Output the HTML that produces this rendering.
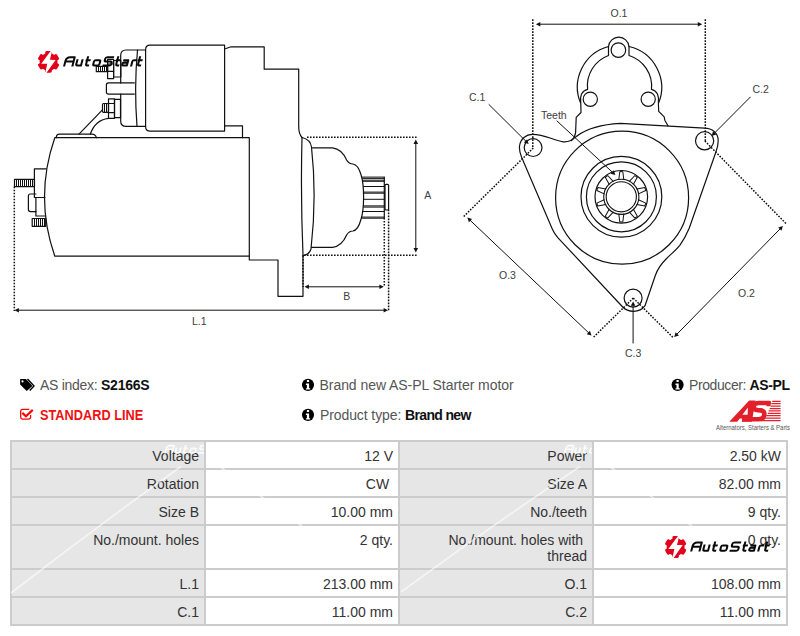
<!DOCTYPE html>
<html><head><meta charset="utf-8">
<style>
html,body{margin:0;padding:0;background:#fff;}
body{width:800px;height:636px;position:relative;overflow:hidden;font-family:"Liberation Sans",sans-serif;}
svg{position:absolute;left:0;top:0;}
.t{position:absolute;font-size:14px;line-height:16px;white-space:nowrap;color:#555;}
.b{font-weight:bold;color:#111;}
table{position:absolute;left:10px;top:440px;border-collapse:collapse;width:776px;table-layout:fixed;font-size:14px;line-height:16px;color:#333;}
td{border:2px solid #ccc;padding:6px 5px 4px 5px;text-align:right;vertical-align:top;height:16px;}
td.l{background:#e6e6e6;}
td.v{background:#fff;}
</style></head><body>
<svg width="800" height="360" viewBox="0 0 800 360" fill="none" stroke="#111" stroke-width="1.2" stroke-linejoin="round" stroke-linecap="round">
<!-- LEFT VIEW -->
<!-- motor body -->
<path d="M54.8 137.7 L249.3 137.7 L249.3 256.2 L54.8 256.2 Q34.2 197 54.8 137.7 Z"/>
<!-- end bracket -->
<path d="M46.2 168.8 L34.4 168.8 L34.4 197.5 L45 197.5"/>
<path d="M35.9 197.5 L35.9 216 L45.5 216"/>
<path d="M35.9 194 L30.5 194 Q28.4 194 28.4 196 L28.4 209.6 Q28.4 211.6 30.5 211.6 L35.9 211.6"/>
<rect x="14.5" y="179.3" width="20" height="7.4"/>
<rect x="32.2" y="218.5" width="13.5" height="7.8"/>
<path stroke-width="1" stroke-linecap="butt" d="M16.5 179.5V186.5M18.5 179.5V186.5M20.5 179.5V186.5M22.5 179.5V186.5M24.5 179.5V186.5M26.5 179.5V186.5M28.5 179.5V186.5M30.5 179.5V186.5M32.5 179.5V186.5"/>
<path stroke-width="1" stroke-linecap="butt" d="M34.5 218.5V226.3M36.5 218.5V226.3M38.5 218.5V226.3M40.5 218.5V226.3M42.5 218.5V226.3M44.5 218.5V226.3"/>
<!-- pad on top of motor -->
<path d="M56.3 137.7 Q56.3 134.2 59.5 134.2 L92 134.2 Q95.3 134.2 96.5 137.7"/>
<!-- wire & bracket -->
<line x1="79" y1="134.2" x2="102.2" y2="110.1"/>
<path d="M90.3 134.2 Q95 120 108.5 118.3"/>
<!-- lower terminal -->
<rect x="102.5" y="103.5" width="6" height="8.8" rx="1"/>
<path stroke-width="1" stroke-linecap="butt" d="M104.5 103.5V112.3M106.5 103.5V112.3"/>
<rect x="108.5" y="98.8" width="6" height="19.5"/>
<path d="M108.5 103.5h6M108.5 112.6h6"/>
<rect x="114.5" y="99.4" width="6" height="18.3"/>
<!-- top terminal -->
<rect x="96.3" y="66.4" width="11.3" height="5.3"/>
<path stroke-width="1" stroke-linecap="butt" d="M98.5 66.4V71.7M100.5 66.4V71.7M102.5 66.4V71.7M104.5 66.4V71.7M106.5 66.4V71.7"/>
<rect x="107.6" y="59.3" width="6" height="19.3"/>
<path d="M107.6 71.4h6M107.6 64h6"/>
<rect x="113.6" y="60.5" width="7.2" height="16.5"/>
<!-- middle bar -->
<path d="M134.3 82.9 L108.5 82.9 Q106.4 82.9 106.4 85 L106.4 92 Q106.4 94.1 108.5 94.1 L134.3 94.1"/>
<!-- solenoid cap -->
<path d="M145.6 50 L126 50 Q120.7 50 120.7 55.5 L120.7 82.9 M120.7 94.1 L120.7 121 Q120.7 126.4 126 126.4 L145.6 126.4"/>
<path d="M137.5 50 Q134 88 137 126.4"/>
<!-- solenoid main -->
<path d="M224.6 45.1 L150 45.1 Q145.6 45.1 145.6 49.5 L145.6 126.7 Q145.6 131.1 150 131.1 L224.6 131.1 Z"/>
<!-- housing -->
<path d="M224.6 49 L231 46.8 L264.2 46.8 L264.2 69.2 L298.7 69.2 L298.7 126 Q298.7 134 302 137.5"/>
<path d="M224.6 125.8 L242.5 125.8 L242.5 137.7"/>
<!-- flange -->
<path d="M302 137.5 Q300.5 196 303 255.5"/>
<path d="M302 137.5 Q310.5 139.5 311.5 147 Q317 197 311 249 Q309 255 303 255.5"/>
<!-- lower housing -->
<path d="M249.3 256.2 L249.3 260 L278 260 L278 296.3 L303 296.3 L303 255.5"/>
<!-- nose -->
<path d="M312.5 147.8 L332.5 147.8 Q342 149 346.6 160 Q349 164 353 164 Q358 165 360.8 174 C362.5 179 363.6 188 363.6 197 C363.6 206 362.5 215 360.8 220 Q358 230 353 231 Q349 231 346.6 235 Q342 246 332.5 247.4 L311.5 247.4"/>
<!-- pinion -->
<path d="M384.3 177.1 V218.2" />
<path d="M362.0 177.1H384.3M362.2 178.4H384.3M362.5 180.2H384.3M362.6 181.3H384.3M363.2 186.5H384.3M363.5 192.1H384.3M363.5 193.2H384.3M363.6 199.3H384.3M363.3 205.9H384.3M363.2 207.1H384.3M362.8 211.5H384.3M362.0 217.1H384.3M361.8 218.2H384.3" stroke-width="1" stroke-linecap="butt"/>
<rect x="385" y="184.4" width="3.6" height="25.6" rx="1"/>
<!-- dimension lines -->
<g stroke-width="1.5" stroke-dasharray="1.6 1.4" stroke-linecap="butt">
<path d="M307 137.2 H417"/>
<path d="M304 255.2 H417"/>
<path d="M384.3 217.9 V287"/>
<path d="M388.6 209.6 V311"/>
<path d="M303 256 V287"/>
<path d="M14.3 186.7 V311"/>
</g>
<g stroke-width="1">
<path d="M415.80 142.50 L415.80 249.50"/>
<path d="M307.50 286.80 L380.80 286.80"/>
<path d="M17.50 310.20 L385.00 310.20"/>
</g>
<g fill="#111" stroke="none">
<path d="M415.80 139.50 L413.50 143.90 L418.10 143.90Z"/>
<path d="M415.80 252.50 L418.10 248.10 L413.50 248.10Z"/>
<path d="M304.50 286.80 L308.90 289.10 L308.90 284.50Z"/>
<path d="M383.80 286.80 L379.40 284.50 L379.40 289.10Z"/>
<path d="M14.50 310.20 L18.90 312.50 L18.90 307.90Z"/>
<path d="M388.00 310.20 L383.60 307.90 L383.60 312.50Z"/>
</g>
<g fill="#404040" stroke="none" font-family="Liberation Sans" font-size="10.5">
<text x="424.3" y="198.7">A</text>
<text x="343.2" y="299.8">B</text>
<text x="192" y="325">L.1</text>
</g>

<!-- RIGHT VIEW -->
<!-- arch -->
<path d="M580.8 103.6 A42 42 0 0 1 608.5 46.5 V55.5 A32.3 32.3 0 0 0 587.6 89.3 Q583.5 90.2 581.5 94 Q579.8 98 580.8 103.6 L581 112.5 L576.2 117.4 L575.6 132.5 Q575 137.5 571.5 140.5"/>
<path d="M658.4 103.6 A42 42 0 0 0 629 46.5 V55.5 A32.3 32.3 0 0 1 651.5 89.3 Q655.5 90.2 657.5 94 Q659.2 98 658.4 103.6 L658.7 111.4 L664.2 116.9 L664.8 120.2 L668 125.7"/>
<path d="M608.5 46.5 A10.3 10.3 0 0 1 629 46.5"/>
<circle cx="618.4" cy="50.1" r="7.3"/>
<circle cx="590.3" cy="99.2" r="7.1"/>
<circle cx="648.2" cy="99.2" r="7.1"/>
<!-- body outline -->
<path d="M532.5 134.3 C545 134.3 552 140 563 141.8 C570 142.5 573 139 577 136 C585 130 600 124.5 620.4 123.4 L704.6 128.1 C712 128.1 718.2 133 718.2 140.4 C718.2 145 717 149 716 151.7 L689.2 228.3 C686 236 683 241 679.8 245.3 C675 251 670 255 666.6 258.5 C662 263 657.5 269 655.3 275.5 L645 305.7 C642 310 638 311.3 633.5 311.3 C629 311.3 625 309.5 622.7 307 L558 237.8 Q554.5 234 552.5 229.5 L521.5 157 C519.5 152 519.2 149 519.5 146 C520.5 139 526 134.3 532.5 134.3 Z"/>
<circle cx="533.1" cy="147.6" r="8.9"/>
<circle cx="704.6" cy="140.8" r="9.1"/>
<circle cx="633.1" cy="298.1" r="9"/>
<!-- concentric circles -->
<circle cx="622.1" cy="197.7" r="66.5"/>
<circle cx="621.4" cy="196.8" r="40.4"/>
<circle cx="621.4" cy="196.8" r="35"/>
<circle cx="621.3" cy="196.8" r="26.3"/>
<circle cx="621.3" cy="196.8" r="17.6" stroke-width="1.1"/>
<circle cx="621.3" cy="196.8" r="15.1" stroke-width="1.1"/>
<g id="teeth" stroke-width="1">
<path d="M618.8 179.6 L619.8 171.6 L622.8 171.6 L623.8 179.6" transform="rotate(0 621.3 196.8)"/>
<path d="M618.8 179.6 L619.8 171.6 L622.8 171.6 L623.8 179.6" transform="rotate(36 621.3 196.8)"/>
<path d="M618.8 179.6 L619.8 171.6 L622.8 171.6 L623.8 179.6" transform="rotate(72 621.3 196.8)"/>
<path d="M618.8 179.6 L619.8 171.6 L622.8 171.6 L623.8 179.6" transform="rotate(108 621.3 196.8)"/>
<path d="M618.8 179.6 L619.8 171.6 L622.8 171.6 L623.8 179.6" transform="rotate(144 621.3 196.8)"/>
<path d="M618.8 179.6 L619.8 171.6 L622.8 171.6 L623.8 179.6" transform="rotate(180 621.3 196.8)"/>
<path d="M618.8 179.6 L619.8 171.6 L622.8 171.6 L623.8 179.6" transform="rotate(216 621.3 196.8)"/>
<path d="M618.8 179.6 L619.8 171.6 L622.8 171.6 L623.8 179.6" transform="rotate(252 621.3 196.8)"/>
<path d="M618.8 179.6 L619.8 171.6 L622.8 171.6 L623.8 179.6" transform="rotate(288 621.3 196.8)"/>
<path d="M618.8 179.6 L619.8 171.6 L622.8 171.6 L623.8 179.6" transform="rotate(324 621.3 196.8)"/>
</g>
<!-- dims right -->
<g stroke-width="1.5" stroke-dasharray="1.6 1.4" stroke-linecap="butt">
<path d="M532.8 19.3 V148"/>
<path d="M705.3 19.3 V141"/>
<path d="M533.3 148 L463.2 217"/>
<path d="M704.9 141 L786.4 224"/>
<path d="M633.3 298.1 L593 337.7"/>
<path d="M633.3 298.1 L673.3 337.7"/>
</g>
<g stroke-width="1">
<path d="M538.90 24.20 L699.20 24.20"/>
<path d="M469.48 219.67 L589.32 333.43"/>
<path d="M780.80 228.14 L676.30 334.86"/>
<path d="M489.00 104.60 L526.47 141.79"/>
<path d="M750.20 97.20 L713.72 133.87"/>
<path d="M633.10 343.00 L633.10 304.40"/>
<path d="M557.00 121.00 L613.20 172.96"/>
</g>
<g fill="#111" stroke="none">
<path d="M535.90 24.20 L540.30 26.50 L540.30 21.90Z"/>
<path d="M702.20 24.20 L697.80 21.90 L697.80 26.50Z"/>
<path d="M467.30 217.60 L468.91 222.30 L472.07 218.96Z"/>
<path d="M591.50 335.50 L589.89 330.80 L586.73 334.14Z"/>
<path d="M782.90 226.00 L778.18 227.53 L781.46 230.75Z"/>
<path d="M674.20 337.00 L678.92 335.47 L675.64 332.25Z"/>
<path d="M528.60 143.90 L527.10 139.17 L523.86 142.43Z"/>
<path d="M711.60 136.00 L716.33 134.50 L713.07 131.26Z"/>
<path d="M633.10 301.40 L630.80 305.80 L635.40 305.80Z"/>
<path d="M615.40 175.00 L613.73 170.32 L610.61 173.70Z"/>
</g>
<g fill="#404040" stroke="none" font-family="Liberation Sans" font-size="10.5">
<text x="610.5" y="17">O.1</text>
<text x="469" y="100.5">C.1</text>
<text x="752.5" y="93">C.2</text>
<text x="625" y="356.5">C.3</text>
<text x="499" y="279.3">O.3</text>
<text x="738" y="297">O.2</text>
<text x="541" y="118.5">Teeth</text>
</g>
</svg>

<!-- info rows -->
<svg width="800" height="636" viewBox="0 0 800 636" style="top:0;left:0;">
<!-- tags icon -->
<path fill="#000" d="M20.1 379.6 Q20.1 379 20.7 379 L25.9 379 L31.8 385.2 Q32.3 385.8 31.8 386.4 L27.3 390.4 Q26.7 390.9 26.1 390.4 L20.1 384.5 Z"/>
<circle cx="22.5" cy="381.4" r="1.05" fill="#fff"/>
<path fill="none" stroke="#000" stroke-width="1.4" d="M27.5 379 L34 385.9 L29.7 390.5"/>
<!-- check-square red -->
<path fill="none" stroke="#f00" stroke-width="1.3" d="M29.3 409.4 H22.5 Q20.7 409.4 20.7 411.2 V417.3 Q20.7 419.1 22.5 419.1 H28.8 Q30.6 419.1 30.6 417.3 V415"/>
<path fill="none" stroke="#f00" stroke-width="2.1" stroke-linecap="square" d="M23.1 413.6 L25.9 416.3 L32 410.6"/>
<!-- info icons -->
<g id="inf">
<circle cx="308" cy="384.85" r="6.05" fill="#000"/>
<path fill="#fff" d="M306.9 379.9 h2.2 v2.1 h-2.2z M305.9 383.6 h3.2 v4.6 h1.1 v1.3 h-4.3 v-1.3 h1 v-3.3 h-1z"/>
</g>
<use href="#inf" transform="translate(0 30)"/>
<use href="#inf" transform="translate(369.6 0)"/>
<!-- AS logo -->
<g fill="#e3202a">
<path fill-rule="evenodd" d="M729.3 421.7 L749.2 400.6 L755.5 400.6 L751.8 421.7 L741.6 421.7 L743.6 418.4 L739.8 418.4 L737.2 421.7 Z M742.4 414.8 L747.9 407.6 L747.6 414.8 Z"/>
<path fill="none" stroke="#e3202a" stroke-width="4.6" stroke-linecap="butt" d="M769.6 403 H758.5 Q753.6 403 753.6 406.8 Q753.6 410 758 410.3 L760.5 410.4 Q764.8 410.7 764.3 414.6 Q763.7 419.2 758.6 419.2 H742"/>
<path d="M767.3 401 H770.6 Q771.6 401.5 770.4 406.2 H766.4 Z"/>
<g stroke="#e3202a" stroke-width="1.25">
<path d="M772.2 401.3 H780.6 M771.4 403.7 H780.6 M770.6 406.1 H780.6 M769.6 408.5 H780.6 M768.6 410.9 H780.6 M767.8 413.3 H780.6 M766.2 415.7 H780.6 M764.8 418.1 H780.6 M761.4 420.7 H780.6"/>
</g>
</g>
<text x="716" y="430" font-family="Liberation Sans" font-size="6.3" fill="#555" textLength="74" lengthAdjust="spacingAndGlyphs">Alternators, Starters &amp; Parts</text>
</svg>
<div class="t" style="left:40px;top:377px;"><span style="letter-spacing:-0.28px">AS index: </span><span class="b" style="letter-spacing:-0.23px">S2166S</span></div>
<div class="t" style="left:40px;top:407px;color:#f01010;font-weight:bold;transform:scaleX(0.911);transform-origin:0 0;">STANDARD LINE</div>
<div class="t" style="left:319.5px;top:377px;letter-spacing:-0.05px;">Brand new AS-PL Starter motor</div>
<div class="t" style="left:320px;top:407px;"><span style="letter-spacing:-0.1px">Product type: </span><span class="b" style="letter-spacing:-0.65px">Brand new</span></div>
<div class="t" style="left:689px;top:377px;"><span style="letter-spacing:-0.4px">Producer: </span><span class="b" style="letter-spacing:-0.4px">AS-PL</span></div>

<table>
<colgroup><col style="width:194px"><col style="width:194px"><col style="width:194px"><col style="width:194px"></colgroup>
<tr><td class="l">Voltage</td><td class="v">12 V</td><td class="l">Power</td><td class="v">2.50 kW</td></tr>
<tr><td class="l">Rotation</td><td class="v">CW&nbsp;</td><td class="l">Size A</td><td class="v">82.00 mm</td></tr>
<tr><td class="l">Size B</td><td class="v">10.00 mm</td><td class="l">No./teeth</td><td class="v">9 qty.</td></tr>
<tr><td class="l">No./mount. holes</td><td class="v">2 qty.</td><td class="l">No./mount. holes with&nbsp;<br>thread</td><td class="v">0 qty.</td></tr>
<tr><td class="l">L.1</td><td class="v">213.00 mm</td><td class="l">O.1</td><td class="v">108.00 mm</td></tr>
<tr><td class="l">C.1</td><td class="v">11.00 mm</td><td class="l">C.2</td><td class="v">11.00 mm</td></tr>
</table>

<svg width="800" height="636" viewBox="0 0 800 636" style="top:0;left:0;">
<g stroke="#fff" stroke-width="1.6" stroke-opacity="0.6" fill="none">
<path d="M11 593 Q95 528 181 466.5"/>
<path d="M401 592 Q490 527 580 466.5"/>
<path d="M219 466 L302 526"/>
<path d="M609 466 L692 526"/>
</g>

</svg>

<svg width="800" height="636" viewBox="0 0 800 636" style="top:0;left:0;">
<defs>
<g id="logo">
<g transform="translate(48.55 61.8)">
<g fill="#e2001a">
<circle r="9"/>
<rect x="-3.2" y="-10.9" width="6.4" height="5" rx="1.4"/>
<rect x="-3.2" y="-10.9" width="6.4" height="5" rx="1.4" transform="rotate(60)"/>
<rect x="-3.2" y="-10.9" width="6.4" height="5" rx="1.4" transform="rotate(120)"/>
<rect x="-3.2" y="-10.9" width="6.4" height="5" rx="1.4" transform="rotate(180)"/>
<rect x="-3.2" y="-10.9" width="6.4" height="5" rx="1.4" transform="rotate(240)"/>
<rect x="-3.2" y="-10.9" width="6.4" height="5" rx="1.4" transform="rotate(300)"/>
</g>
<path fill="#fff" d="M2.5 -11.2 L-7.3 1.97 L-1.35 1.97 L-3.2 11.2 L-2.2 11.2 L7.05 -1.9 L1.4 -2 L3.6 -11.2 Z"/>
</g>
<g stroke="#0a0a0a"><use href="#lt"/></g>
</g>
<g id="lt" fill="none" stroke-width="2.05" stroke-linejoin="round" transform="translate(0 66.4)">
<g transform="translate(63.1 0) skewX(-14.6)"><path d="M0.95 0 V-5.6 Q0.95 -9.15 4.5 -9.15 H9.2 V0 M0.95 -4.9 H9.2"/></g>
<g transform="translate(74.75 0) skewX(-14.6)"><path d="M0.95 -7.15 V-2.3 Q0.95 -0.95 2.3 -0.95 H6 M6 -7.15 V0"/></g>
<g transform="translate(84.6 0) skewX(-14.6)"><path d="M0.95 -10.1 V-2.3 Q0.95 -0.95 2.3 -0.95 H4.2 M-0.6 -6.2 H4.4"/></g>
<g transform="translate(91.75 0) skewX(-14.6)"><rect x="0.95" y="-6.2" width="6.2" height="5.25" rx="1.4"/></g>
<g transform="translate(102.25 0) skewX(-14.6)"><path d="M9.4 -9.15 H2.5 Q0.95 -9.15 0.95 -7.6 V-6.4 Q0.95 -4.9 2.5 -4.9 H6.9 Q8.45 -4.9 8.45 -3.4 V-2.5 Q8.45 -0.95 6.9 -0.95 H0"/></g>
<g transform="translate(114.75 0) skewX(-14.6)"><path d="M0.95 -10.1 V-2.3 Q0.95 -0.95 2.3 -0.95 H4.2 M-0.6 -6.2 H4.4"/></g>
<g transform="translate(120.7 0) skewX(-14.6)"><path d="M0.95 -6.2 H5.95 V-0.95 H2.3 Q0.95 -0.95 0.95 -2.3 V-2.5 Q0.95 -3.8 2.3 -3.8 H5.95"/></g>
<g transform="translate(130.1 0) skewX(-14.6)"><path d="M0.95 0 V-4.8 Q0.95 -6.2 2.3 -6.2 H5.2"/></g>
<g transform="translate(136.6 0) skewX(-14.6)"><path d="M0.95 -10.1 V-2.3 Q0.95 -0.95 2.3 -0.95 H4.2 M-0.6 -6.2 H4.4"/></g>
</g>
</defs>
<g stroke="#fff" stroke-opacity="0.85">
<svg x="0" y="440" width="204" height="30" viewBox="0 440 204 30" overflow="hidden"><use href="#lt" transform="translate(109.9 396.5) scale(0.86)"/></svg>
<svg x="400" y="440" width="192" height="30" viewBox="400 440 192 30" overflow="hidden"><use href="#lt" transform="translate(509.5 396.5) scale(0.86)"/></svg>
</g>
<use href="#logo"/>
<use href="#logo" transform="translate(627.1 485.2)"/>
</svg>
</body></html>
